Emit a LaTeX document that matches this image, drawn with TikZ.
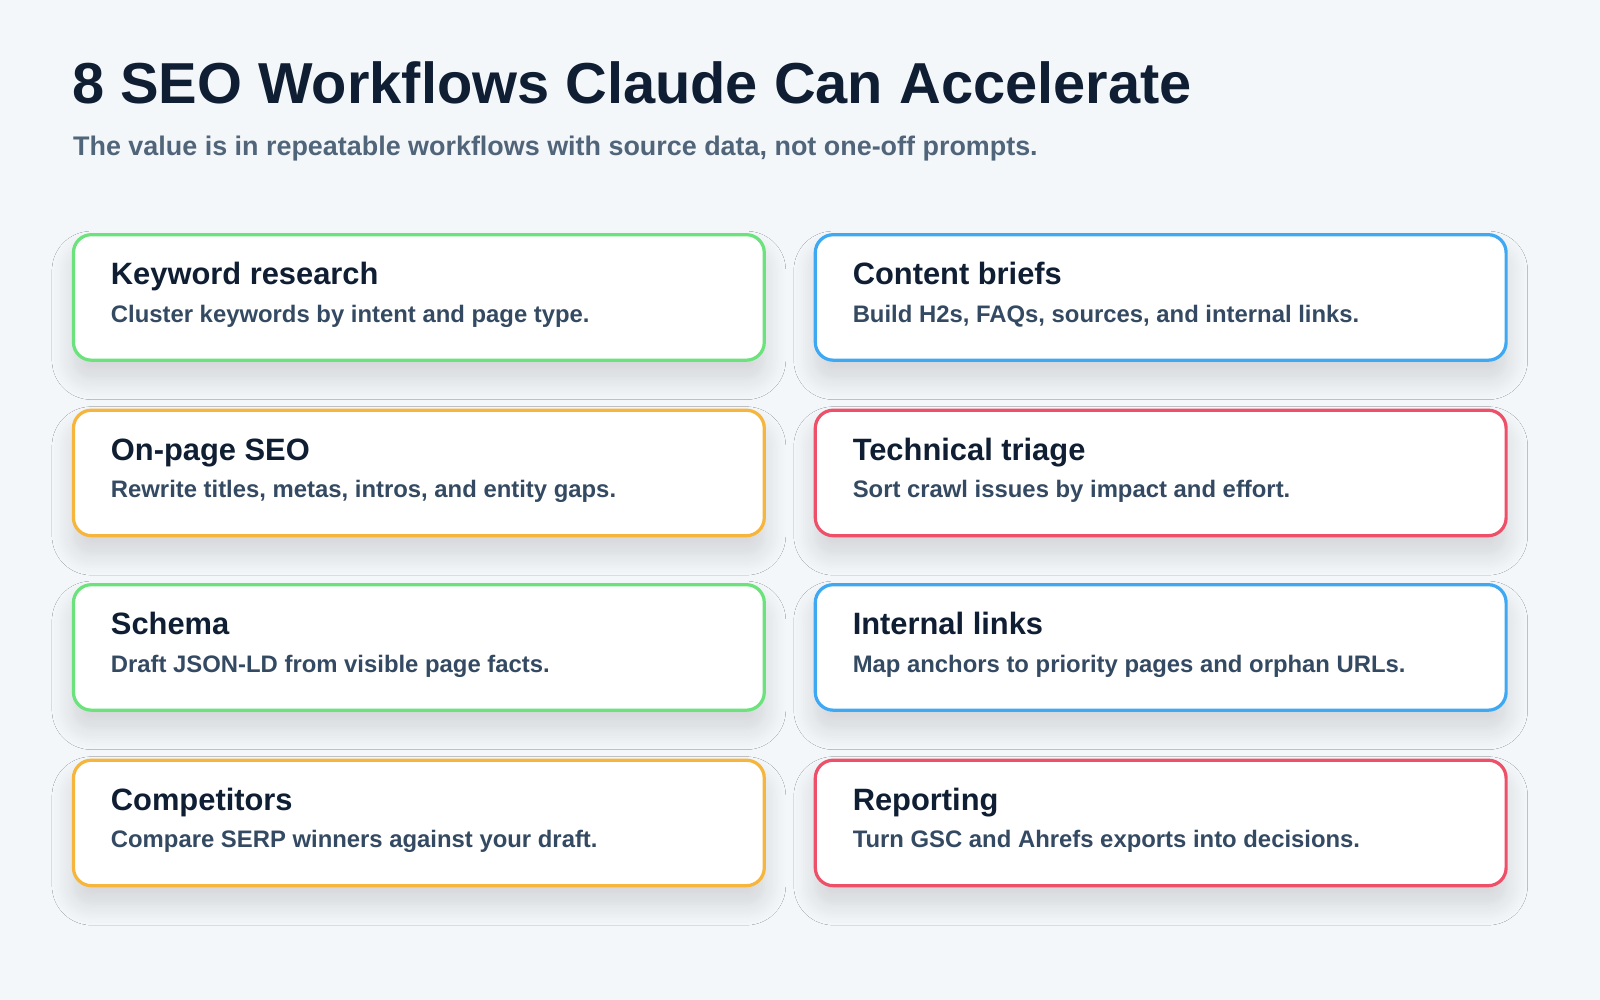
\documentclass[tikz,border=0pt]{standalone}
\usepackage{fontspec}
\setmainfont{Liberation Sans}
\usetikzlibrary{shadows.blur}
\definecolor{bgc}{HTML}{F4F7FA}
\definecolor{ink}{HTML}{0F1E33}
\definecolor{sub}{HTML}{51657A}
\definecolor{desc}{HTML}{344A62}
\definecolor{cgreen}{HTML}{6BE27B}
\definecolor{cblue}{HTML}{3EA8F2}
\definecolor{corange}{HTML}{F6B63E}
\definecolor{cred}{HTML}{EE5069}
\tikzset{
  card/.style={draw=#1, line width=0.9pt, fill=white, rounded corners=5pt,
    blur shadow={shadow xshift=0pt, shadow yshift=-5pt, shadow blur radius=6pt, shadow blur steps=10, shadow opacity=14}},
  cardtitle/.style={anchor=base west, inner sep=0pt, text=ink, font=\bfseries\fontsize{8.6}{10}\selectfont},
  carddesc/.style={anchor=base west, inner sep=0pt, text=desc, font=\bfseries\fontsize{6.65}{8}\selectfont}
}
\begin{document}
\begin{tikzpicture}[x=0.01cm,y=-0.01cm]
\fill[bgc] (0,0) rectangle (1568,980);
\useasboundingbox (0,0) rectangle (1568,980);
% header
\node[anchor=base west, inner sep=0pt, text=ink, font=\bfseries\fontsize{16.1}{18}\selectfont] (title) at (70,101) {8 SEO Workflows Claude Can Accelerate};
\node[anchor=base west, inner sep=0pt, text=sub, font=\bfseries\fontsize{7.5}{9}\selectfont] (subtitle) at (71,152) {The value is in repeatable workflows with source data, not one-off prompts.};
% cards
\foreach \n/\x/\y/\c/\t/\d in {
  kw/72/230/cgreen/Keyword research/Cluster keywords by intent and page type.,
  cb/799/230/cblue/Content briefs/{Build H2s, FAQs, sources, and internal links.},
  op/72/402/corange/On-page SEO/{Rewrite titles, metas, intros, and entity gaps.},
  tt/799/402/cred/Technical triage/Sort crawl issues by impact and effort.,
  sc/72/573/cgreen/Schema/Draft JSON-LD from visible page facts.,
  il/799/573/cblue/Internal links/Map anchors to priority pages and orphan URLs.,
  co/72/745/corange/Competitors/Compare SERP winners against your draft.,
  re/799/745/cred/Reporting/Turn GSC and Ahrefs exports into decisions.}{
  \draw[card=\c] (\x,\y) rectangle ++(677,123);
  \node[cardtitle] (\n-t) at (\x+36,\y+49) {\t};
  \node[carddesc] (\n-d) at (\x+36,\y+86) {\d};
}
\end{tikzpicture}
\end{document}
